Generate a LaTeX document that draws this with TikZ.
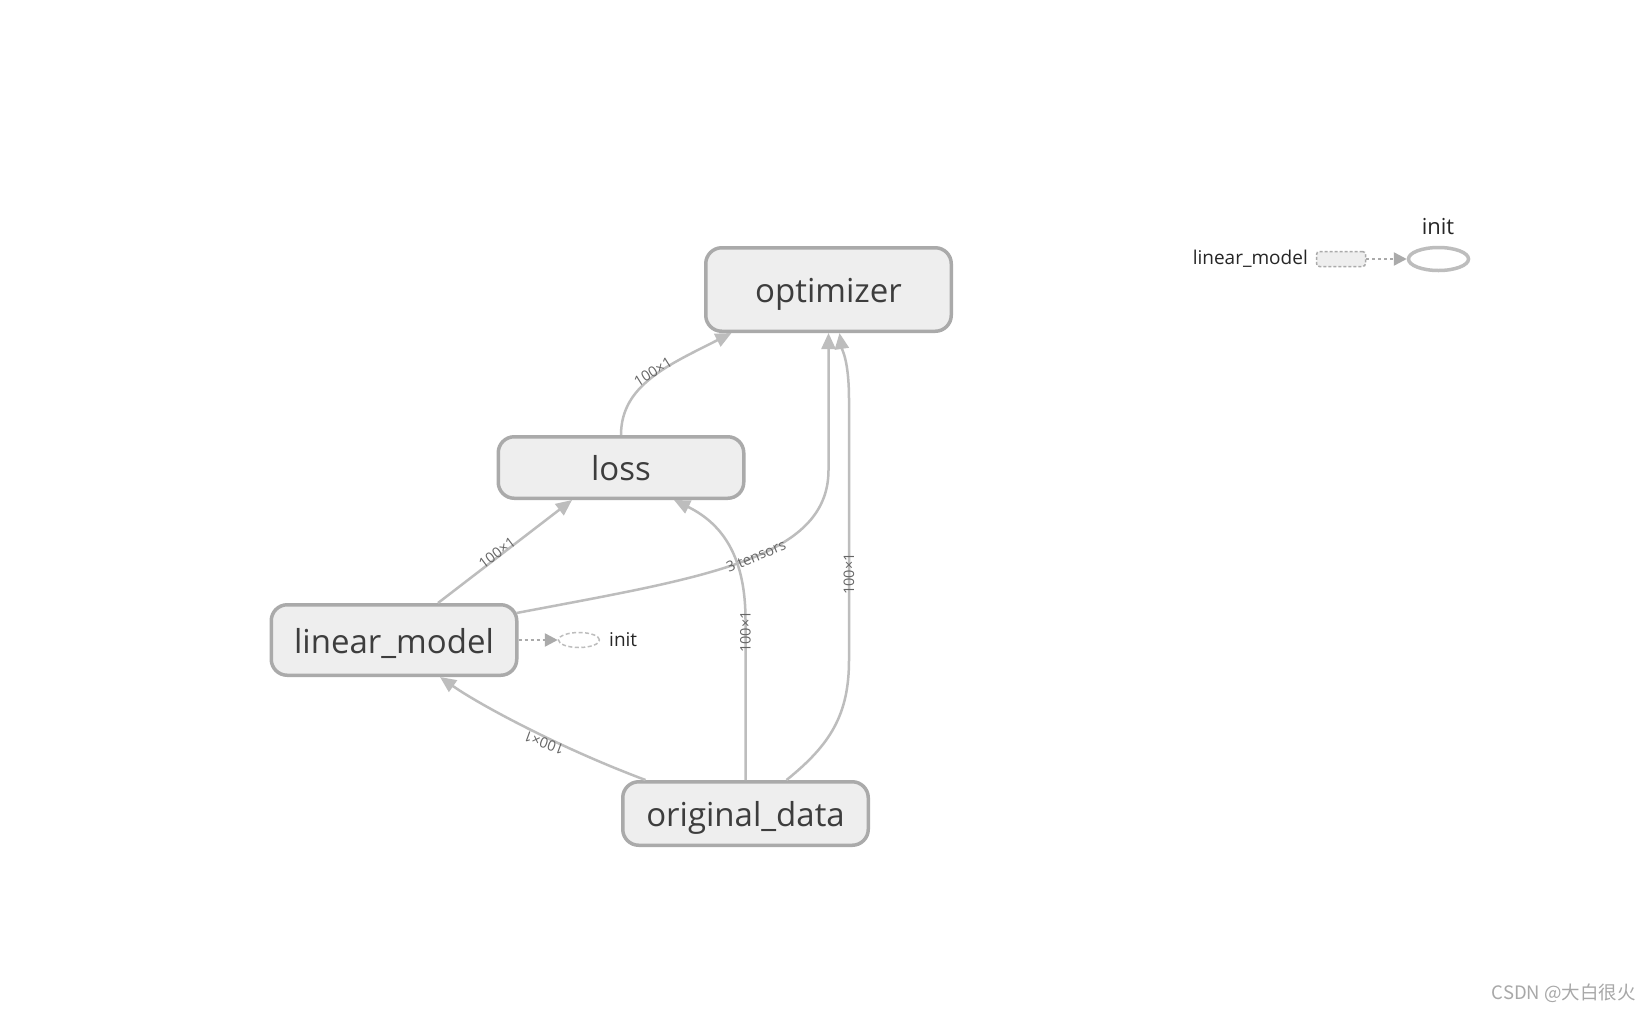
\documentclass[tikz,border=0pt]{standalone}
\usepackage{fontspec}
\setmainfont{Open Sans}
\newfontfamily\cjkfont{Noto Sans CJK SC}
\usetikzlibrary{arrows.meta,shapes.geometric,calc}
\definecolor{boxfill}{HTML}{EEEEEE}
\definecolor{boxline}{HTML}{AAAAAA}
\definecolor{edgecol}{HTML}{BDBDBD}
\definecolor{txtcol}{HTML}{3D3D3D}
\definecolor{lblcol}{HTML}{666666}
\definecolor{wmcol}{HTML}{A8A8A8}
\begin{document}
\begin{tikzpicture}[x=1pt,y=-1pt,
  opbox/.style={draw=boxline, line width=3.5pt, fill=boxfill, rounded corners=16pt,
    text=txtcol, font=\fontsize{33}{40}\selectfont, inner sep=0pt, minimum width=245.5pt,
    text height=26pt, text depth=0pt},
  flow/.style={draw=edgecol, line width=2.5pt, -{Triangle[length=16pt,width=14pt]}},
  elabel/.style={font=\fontsize{14.5}{16}\selectfont, text=lblcol, inner sep=0pt},
  ctrl/.style={draw=boxline, line width=2.5pt, dash pattern=on 3pt off 3pt,
    -{Triangle[length=13pt,width=13pt]}},
  smalltext/.style={text=black!85, inner sep=0pt}
]
\useasboundingbox (0,0) rectangle (1651,1013);
\fill[white] (0,0) rectangle (1651,1013);

% main nodes
\node[opbox, minimum height=83.5pt] (optimizer) at (828.5,289.5) {optimizer};
\node[opbox, minimum height=61.5pt] (loss) at (621,467.5) {loss};
\node[opbox, minimum height=70.5pt] (linear) at (394,640) {linear\_model};
\node[opbox, minimum height=63.5pt] (orig) at (745.5,813.5) {original\_data};

% small init
\node[ellipse, draw=edgecol, line width=1.5pt, dash pattern=on 4pt off 2.5pt,
  minimum width=41pt, minimum height=15pt, inner sep=0pt] (sinit) at (579,640) {};
\node[smalltext, anchor=west, font=\fontsize{19}{22}\selectfont] (sinitlbl) at (609,640) {init};
\draw[ctrl] (linear.east) -- (sinit.west);

% edges
\draw[flow] (loss.north) .. controls ($(loss.north)+(0,-50)$) and ($(optimizer.south)+(-160,32)$) .. ($(optimizer.south)+(-97,0)$);
\draw[flow] ($(linear.north)+(44,0)$) -- ($(loss.south)+(-49,0)$);
\draw[flow] ($(linear.north east)+(-2,10)$) .. controls (700,578) and (828.5,560) .. (828.5,470) -- (optimizer.south);
\draw[flow] ($(orig.north)+(-100,0)$) .. controls (560,748) and (480,705) .. ($(linear.south)+(46,0)$);
\draw[flow] (orig.north) -- (745.5,620) .. controls (745.5,560) and (725,525) .. ($(loss.south)+(53,0)$);
\draw[flow] ($(orig.north)+(41,0)$) .. controls (830,745) and (849,715) .. (849,660) -- (849,400) .. controls (849,360) and (842,350) .. ($(optimizer.south)+(11,0)$);

% edge labels
\node[elabel, rotate=32] (l1) at (653,372) {100×1};
\node[elabel, rotate=37] (l2) at (497,553) {100×1};
\node[elabel, rotate=22] (l3) at (756,556) {3 tensors};
\node[elabel, rotate=160] (l4) at (544,743) {100×1};
\node[elabel, rotate=90] (l5) at (745.5,632) {100×1};
\node[elabel, rotate=90] (l6) at (849,574) {100×1};

% legend
\node[smalltext, anchor=east, font=\fontsize{19}{22}\selectfont] (leglm) at (1308,259) {linear\_model};
\node[draw=boxline, fill=boxfill, line width=1.5pt, dash pattern=on 3pt off 2pt,
  rounded corners=3pt, minimum width=49pt, minimum height=15pt, inner sep=0pt] (legrect) at (1341,259) {};
\node[ellipse, draw=edgecol, line width=3.5pt, minimum width=60pt, minimum height=23pt, inner sep=0pt] (leginit) at (1438.5,259) {};
\draw[ctrl] (legrect.east) -- (leginit.west);
\node[smalltext, font=\fontsize{22}{26}\selectfont] (leginitlbl) at (1438,227) {init};

% watermark
\node[anchor=east, text=wmcol, inner sep=0pt, font=\cjkfont\fontsize{18.5}{20}\selectfont] (wm) at (1636,993) {CSDN @大白很火};
\end{tikzpicture}
\end{document}
